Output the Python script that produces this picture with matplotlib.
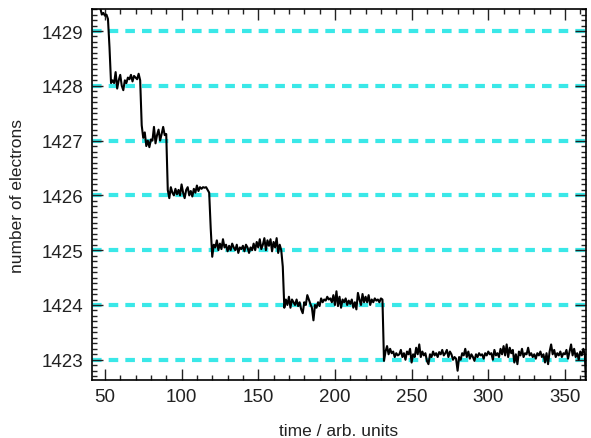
import numpy as np
import matplotlib
matplotlib.use('Agg')
import matplotlib.pyplot as plt
from matplotlib.ticker import MultipleLocator

# electron number, one sample per time unit starting at t = 44
t_start = 44
seg_top = [1429.9, 1429.75, 1429.6, 1429.42, 1429.3, 1429.33, 1429.28, 1429.3, 1429.22, 1428.7]
seg_1428 = [1428.05, 1428.1, 1428.05, 1428.25, 1427.95, 1428.1, 1428.2, 1428.0, 1427.92, 1428.1,
            1428.05, 1428.15, 1428.12, 1428.2, 1428.08, 1428.18, 1428.15, 1428.12, 1428.22, 1428.1]
seg_1427 = [1427.28, 1427.05, 1427.15, 1426.9, 1427.0, 1426.88, 1427.02, 1427.0, 1427.25, 1426.95,
            1427.1, 1427.2, 1427.0, 1427.12, 1427.25, 1427.1, 1427.12]
seg_1426 = [1426.1, 1425.95, 1426.15, 1426.05, 1426.0, 1426.12, 1426.02, 1426.1, 1426.0, 1426.2,
            1426.05, 1425.95, 1426.1, 1426.15, 1426.0, 1426.08, 1425.98, 1426.12, 1426.05, 1426.18,
            1426.08, 1426.15, 1426.12, 1426.15, 1426.14, 1426.15, 1426.1, 1426.05, 1425.4]
seg_1425 = [1424.88, 1425.1, 1425.05, 1425.18, 1425.0, 1425.12, 1425.02, 1425.2, 1425.05, 1425.1,
            1424.98, 1425.08, 1425.0, 1425.12, 1425.05, 1425.0, 1425.1, 1424.95, 1425.05, 1425.02,
            1425.08, 1424.98, 1425.1, 1425.05, 1424.95, 1425.05, 1425.0, 1425.12, 1425.0, 1425.15,
            1425.05, 1425.2, 1425.02, 1425.1, 1425.22, 1425.0, 1425.18, 1425.08, 1425.2, 1424.98,
            1425.15, 1425.05, 1425.22, 1424.95, 1425.1, 1425.0, 1424.7]
seg_1424 = [1423.95, 1424.1, 1424.0, 1424.15, 1423.95, 1424.1, 1424.05, 1424.0, 1424.1, 1423.98,
            1424.05, 1423.92, 1423.85, 1424.05, 1424.0, 1424.18, 1424.1, 1424.02, 1423.95, 1423.72,
            1424.0, 1423.95, 1424.05, 1423.98, 1424.12, 1424.05, 1424.1, 1424.08, 1424.15, 1424.1,
            1424.12, 1424.05, 1424.18, 1424.0, 1424.25, 1423.98, 1424.15, 1423.95, 1424.1, 1424.05,
            1424.12, 1424.0, 1424.08, 1424.02, 1424.1, 1423.95, 1424.05, 1423.92, 1424.22, 1424.1,
            1424.0, 1424.2, 1424.05, 1424.15, 1424.05, 1424.18, 1424.0, 1424.1, 1424.05, 1424.12,
            1424.08, 1424.1, 1424.05, 1424.12, 1424.1]
seg_1423 = [1422.98, 1423.15, 1423.25, 1423.1, 1423.2, 1423.12, 1423.15, 1423.05, 1423.12, 1423.08,
            1423.1, 1423.18, 1423.05, 1423.12, 1423.0, 1423.15, 1423.1, 1423.2, 1422.95, 1423.1,
            1423.05, 1423.22, 1423.1, 1423.28, 1423.05, 1423.15, 1423.08, 1423.12, 1422.98, 1422.92,
            1423.1, 1423.05, 1423.15, 1423.08, 1423.12, 1423.05, 1423.14, 1423.1, 1423.18, 1423.08,
            1423.12, 1423.18, 1423.05, 1423.15, 1423.1, 1423.0, 1423.05, 1423.02, 1422.8, 1423.05,
            1423.0, 1423.12, 1423.08, 1423.2, 1423.05, 1423.15, 1423.02, 1423.1, 1423.05, 1422.98,
            1423.1, 1423.05, 1423.12, 1423.08, 1423.1, 1423.02, 1423.12, 1423.08, 1423.15, 1423.1,
            1423.12, 1423.0, 1423.18, 1423.08, 1423.12, 1423.05, 1423.2, 1423.1, 1423.25, 1423.08,
            1423.28, 1423.05, 1423.22, 1423.12, 1423.18, 1422.95, 1423.1, 1422.92, 1423.15, 1423.08,
            1423.2, 1423.05, 1423.12, 1423.1, 1423.22, 1423.08, 1423.12, 1423.05, 1423.1, 1423.02,
            1423.12, 1423.08, 1423.15, 1423.05, 1423.1, 1422.95, 1423.12, 1422.92, 1423.15, 1423.28,
            1423.1, 1423.18, 1423.05, 1423.12, 1423.08, 1423.15, 1423.05, 1423.12, 1423.1, 1423.18,
            1423.02, 1423.15, 1423.28, 1423.08, 1423.2, 1423.05, 1423.12, 1423.0, 1423.15, 1423.08,
            1423.2, 1423.1, 1422.3]
levels = [1423, 1424, 1425, 1426, 1427, 1428, 1429]

n_e = np.array(seg_top + seg_1428 + seg_1427 + seg_1426 + seg_1425 + seg_1424 + seg_1423)
t = t_start + np.arange(len(n_e))

plt.rcParams['font.family'] = ['Liberation Sans', 'DejaVu Sans']
fig = plt.figure(figsize=(5.91, 4.39), dpi=100)
ax = fig.add_axes([0.1557, 0.132, 0.836, 0.845])

for lv in levels:
    ax.axhline(lv, color='#3ae8e8', lw=3, ls=(0, (2.3, 1.7)), zorder=1)
ax.plot(t, n_e, color='black', lw=1.5, zorder=2)

ax.set_xlim(41.6, 363.8)
ax.set_ylim(1422.63, 1429.4)
ax.xaxis.set_major_locator(MultipleLocator(50))
ax.xaxis.set_minor_locator(MultipleLocator(10))
ax.yaxis.set_major_locator(MultipleLocator(1))
ax.yaxis.set_minor_locator(MultipleLocator(0.1))
ax.tick_params(which='both', direction='in', top=True, right=True, width=1, colors='#222222')
ax.tick_params(which='major', length=8, labelsize=13.5, pad=6)
ax.tick_params(which='minor', length=3.5)
for s in ax.spines.values():
    s.set_linewidth(1.2)
ax.set_xlabel('time / arb. units', fontsize=12.5, labelpad=13, color='#222222')
ax.set_ylabel('number of electrons', fontsize=12.5, labelpad=12, color='#222222')

fig.savefig('out.png', dpi=100)
